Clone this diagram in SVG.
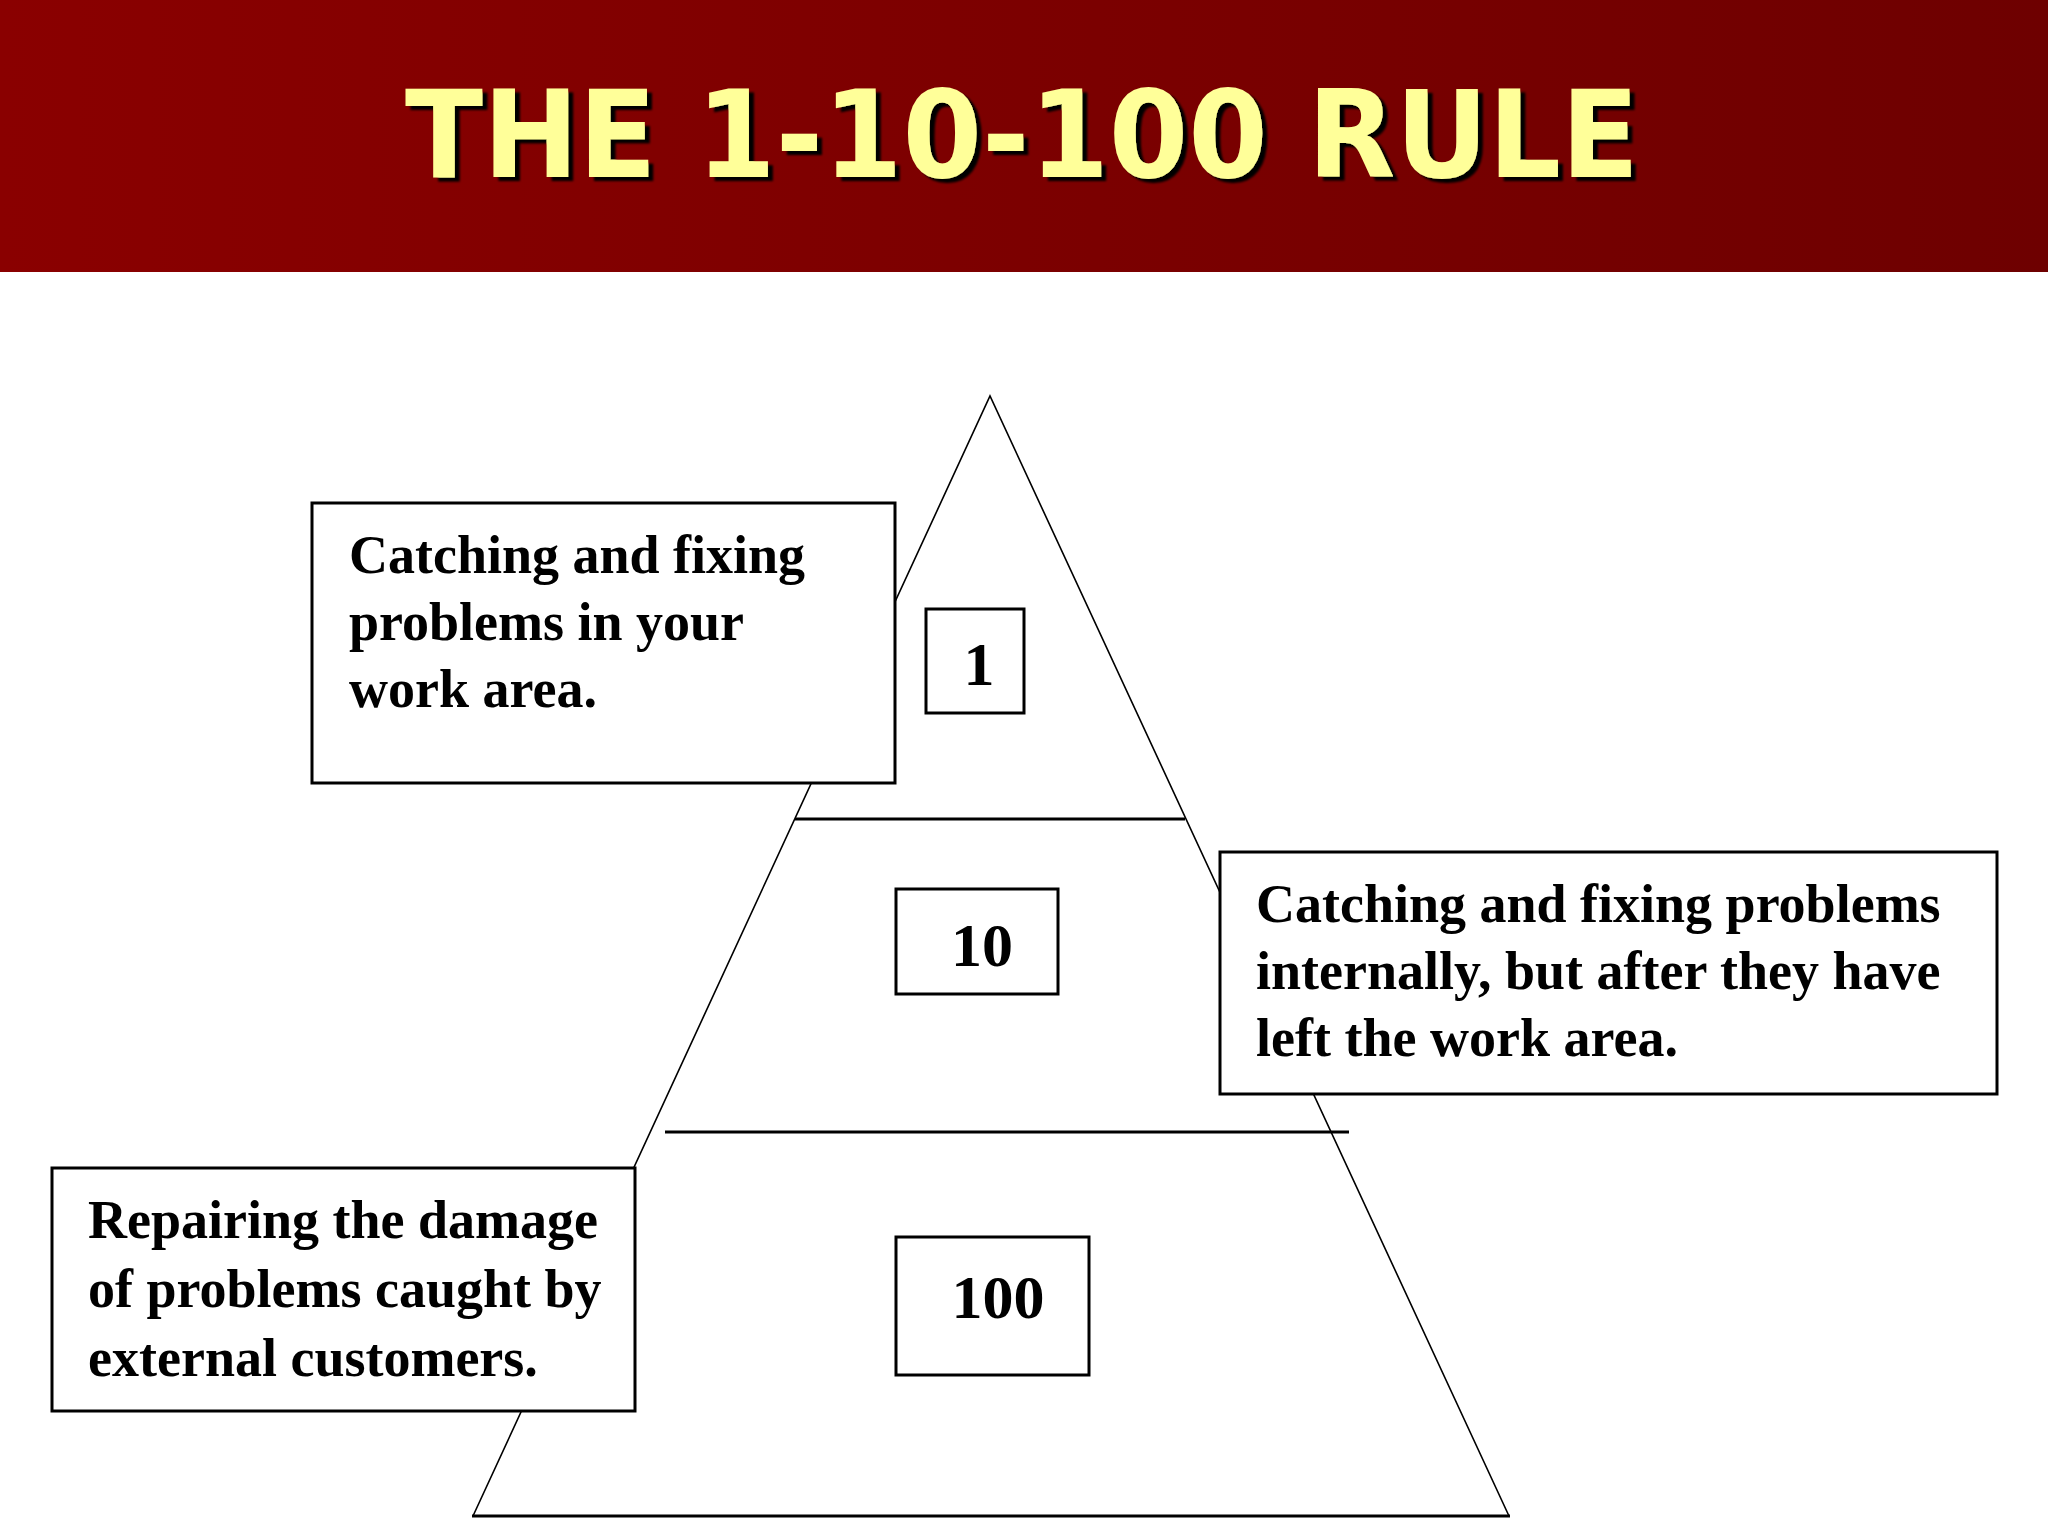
<svg xmlns="http://www.w3.org/2000/svg" width="2048" height="1536" viewBox="0 0 2048 1536">
  <defs>
    <linearGradient id="hdr" x1="0" y1="0" x2="1" y2="0">
      <stop offset="0" stop-color="#8a0000"/>
      <stop offset="1" stop-color="#6e0000"/>
    </linearGradient>
    <filter id="shadow" x="-5%" y="-20%" width="110%" height="140%">
      <feDropShadow dx="5" dy="4" stdDeviation="1" flood-color="#000000" flood-opacity="1"/>
    </filter>
  </defs>
  <style>
    .title { font-family: "DejaVu Sans", Verdana, sans-serif; font-weight: bold; font-size: 122px; fill: #ffff99; }
    .box { fill: #ffffff; stroke: #000000; stroke-width: 3; }
    .txt { font-family: "Liberation Serif", "Times New Roman", serif; font-weight: bold; font-size: 54px; fill: #000000; }
    .num { font-family: "Liberation Serif", "Times New Roman", serif; font-weight: bold; font-size: 62px; fill: #000000; text-anchor: middle; }
    .edge { fill: none; stroke: #000000; stroke-width: 1.6; }
    .bar { fill: none; stroke: #000000; stroke-width: 3; }
  </style>
  <rect x="0" y="0" width="2048" height="1536" fill="#ffffff"/>
  <g id="header">
    <rect x="0" y="0" width="2048" height="272" fill="url(#hdr)"/>
    <text class="title" x="405" y="177" filter="url(#shadow)" textLength="1234" lengthAdjust="spacingAndGlyphs">THE 1-10-100 RULE</text>
  </g>
  <g id="pyramid">
    <path class="edge" d="M473,1516 L990,396 L1509,1516"/>
    <line class="bar" x1="472" y1="1516" x2="1510" y2="1516"/>
    <line class="bar" x1="795" y1="819" x2="1185" y2="819"/>
    <line class="bar" x1="665" y1="1132" x2="1349" y2="1132"/>
  </g>
  <g id="node-1">
    <rect class="box" x="926" y="609" width="98" height="104"/>
    <text class="num" x="979" y="685">1</text>
  </g>
  <g id="node-10">
    <rect class="box" x="896" y="889" width="162" height="105"/>
    <text class="num" x="982" y="966">10</text>
  </g>
  <g id="node-100">
    <rect class="box" x="896" y="1237" width="193" height="138"/>
    <text class="num" x="998" y="1318">100</text>
  </g>
  <g id="callout-work-area">
    <rect class="box" x="312" y="503" width="583" height="280"/>
    <text class="txt" x="349" y="573">Catching and fixing</text>
    <text class="txt" x="349" y="640">problems in your</text>
    <text class="txt" x="349" y="707">work area.</text>
  </g>
  <g id="callout-internal">
    <rect class="box" x="1220" y="852" width="777" height="242"/>
    <text class="txt" x="1256" y="922">Catching and fixing problems</text>
    <text class="txt" x="1256" y="989">internally, but after they have</text>
    <text class="txt" x="1256" y="1056">left the work area.</text>
  </g>
  <g id="callout-external">
    <rect class="box" x="52" y="1168" width="583" height="243"/>
    <text class="txt" x="88" y="1238">Repairing the damage</text>
    <text class="txt" x="88" y="1307">of problems caught by</text>
    <text class="txt" x="88" y="1376">external customers.</text>
  </g>
</svg>
